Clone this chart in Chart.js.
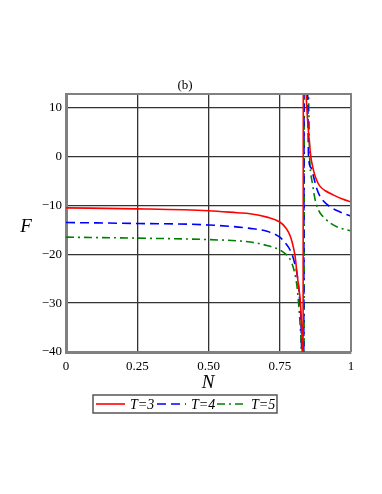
<!DOCTYPE html>
<html>
<head>
<meta charset="utf-8">
<script src="https://cdn.jsdelivr.net/npm/chart.js@4.4.1/dist/chart.umd.min.js"></script>
<style>
  html, body { margin: 0; padding: 0; background: #fff; }
  #wrap { width: 382px; height: 494px; }
</style>
</head>
<body>
<div id="wrap"><canvas id="c" width="382" height="494"></canvas></div>
<script>
// values: N on x, F on y
var N_T3 = [0, 0.25, 0.5, 0.6, 0.646, 0.705, 0.75, 0.77, 0.781, 0.79, 0.798, 0.804, 0.81, 0.816, 0.822, 0.826, 0.829, 0.831,
            0.834, 0.838, 0.843, 0.845, 0.851, 0.859, 0.866, 0.872, 0.88, 0.89, 0.91, 0.939, 0.97, 1];
var F_T3 = [-10.5, -10.7, -11.1, -11.5, -11.7, -12.4, -13.4, -14.5, -15.5, -16.8, -18.6, -20.5, -23.6, -26.5, -29.5, -34, -42, -80,
            80, 40, 13, 10, 5, 0, -2.2, -3.6, -4.9, -6.0, -7.0, -7.9, -8.7, -9.3];

var N_T4 = [0, 0.25, 0.5, 0.646, 0.705, 0.75, 0.77, 0.781, 0.79, 0.796, 0.803, 0.81, 0.816, 0.82, 0.824, 0.827, 0.833,
            0.837, 0.842, 0.848, 0.851, 0.86, 0.869, 0.88, 0.89, 0.905, 0.927, 0.96, 1];
var F_T4 = [-13.5, -13.7, -14.0, -14.7, -15.3, -16.5, -17.7, -18.6, -19.6, -20.5, -22, -23.8, -26.5, -29.5, -33, -41, -80,
            80, 30, 13, 0, -2.3, -4.2, -6.6, -8.0, -9.2, -10.3, -11.3, -12.2];

var N_T5 = [0, 0.25, 0.5, 0.646, 0.705, 0.75, 0.77, 0.781, 0.79, 0.798, 0.806, 0.812, 0.816, 0.821, 0.826, 0.834,
            0.838, 0.845, 0.851, 0.855, 0.859, 0.865, 0.872, 0.88, 0.892, 0.904, 0.927, 0.96, 1];
var F_T5 = [-16.5, -16.7, -17.0, -17.5, -18.2, -19.1, -19.9, -20.5, -21.5, -22.8, -24.8, -27.3, -30, -34, -41, -80,
            80, 30, 13, 0, -3.4, -5.6, -8.2, -10.1, -11.6, -12.4, -13.6, -14.6, -15.2];

var SERIES_LABELS = ['T=3', 'T=4', 'T=5'];
var X_TICKS = [0, 0.25, 0.5, 0.75, 1];
var X_TICK_LABELS = ['0', '0.25', '0.50', '0.75', '1'];
var Y_TICKS = [-40, -30, -20, -10, 0, 10];

var SERIF = '"Liberation Serif", "DejaVu Serif", serif';

function pts(xs, ys) {
    return xs.map(function (x, i) { return { x: x, y: ys[i] }; });
}

var datasets = [
    { label: SERIES_LABELS[0], data: pts(N_T3, F_T3), borderColor: '#ff0000', borderDash: [] },
    { label: SERIES_LABELS[1], data: pts(N_T4, F_T4), borderColor: '#0000ff', borderDash: [9, 5] },
    { label: SERIES_LABELS[2], data: pts(N_T5, F_T5), borderColor: '#008000', borderDash: [8, 4, 2, 4] }
].map(function (d) {
    d.borderWidth = 1.6;
    d.pointRadius = 0;
    d.fill = false;
    d.cubicInterpolationMode = 'monotone';
    return d;
});

// frame, title, axis names and the boxed legend
var decor = {
    id: 'decor',
    afterDraw: function (chart) {
        var ctx = chart.ctx;
        var a = chart.chartArea;
        ctx.save();
        ctx.strokeStyle = '#808080';
        ctx.lineWidth = 2;
        ctx.beginPath();
        ctx.moveTo(a.left, a.top);
        ctx.lineTo(a.right, a.top);
        ctx.lineTo(a.right, a.bottom);
        ctx.stroke();

        ctx.fillStyle = '#000';
        ctx.textAlign = 'center';
        ctx.textBaseline = 'middle';
        ctx.font = '13px ' + SERIF;
        ctx.fillText('(b)', 185, 86);

        ctx.font = 'italic 19px ' + SERIF;
        ctx.fillText('F', 26, 227);
        ctx.fillText('N', 208, 383);

        // legend
        var bx = 93, by = 395, bw = 184, bh = 18;
        ctx.strokeStyle = '#555';
        ctx.lineWidth = 1.5;
        ctx.strokeRect(bx, by, bw, bh);
        var lx = [96, 157, 217];
        ctx.font = 'italic 14px ' + SERIF;
        ctx.textAlign = 'left';
        chart.data.datasets.forEach(function (ds, i) {
            var y = by + bh / 2;
            ctx.strokeStyle = ds.borderColor;
            ctx.lineWidth = 1.6;
            ctx.setLineDash(ds.borderDash);
            ctx.beginPath();
            ctx.moveTo(lx[i], y);
            ctx.lineTo(lx[i] + 29, y);
            ctx.stroke();
            ctx.setLineDash([]);
            ctx.fillStyle = '#000';
            ctx.fillText(ds.label, lx[i] + 34, y + 1);
        });
        ctx.restore();
    }
};

new Chart(document.getElementById('c').getContext('2d'), {
    type: 'line',
    data: { datasets: datasets },
    options: {
        responsive: false,
        animation: false,
        layout: { padding: { left: 0, right: 31, top: 94, bottom: 0 } },
        plugins: { legend: { display: false }, tooltip: { enabled: false } },
        scales: {
            x: {
                type: 'linear',
                min: 0,
                max: 1,
                afterBuildTicks: function (s) { s.ticks = X_TICKS.map(function (v) { return { value: v }; }); },
                afterFit: function (s) { s.height = 142; },
                ticks: {
                    padding: 7,
                    color: '#000',
                    font: { family: SERIF, size: 13 },
                    maxRotation: 0,
                    callback: function (v) { return X_TICK_LABELS[X_TICKS.indexOf(v)]; }
                },
                grid: { color: '#333', lineWidth: 1.3, drawTicks: false },
                border: { color: '#808080', width: 3 }
            },
            y: {
                min: -40,
                max: 12.8,
                afterBuildTicks: function (s) { s.ticks = Y_TICKS.map(function (v) { return { value: v }; }); },
                afterFit: function (s) { s.width = 66; },
                ticks: {
                    padding: 4,
                    color: '#000',
                    font: { family: SERIF, size: 13 },
                    callback: function (v) { return v < 0 ? '\u2212' + Math.abs(v) : String(v); }
                },
                grid: { color: '#333', lineWidth: 1.3, drawTicks: false },
                border: { color: '#808080', width: 3 }
            }
        }
    },
    plugins: [decor]
});
</script>
</body>
</html>
